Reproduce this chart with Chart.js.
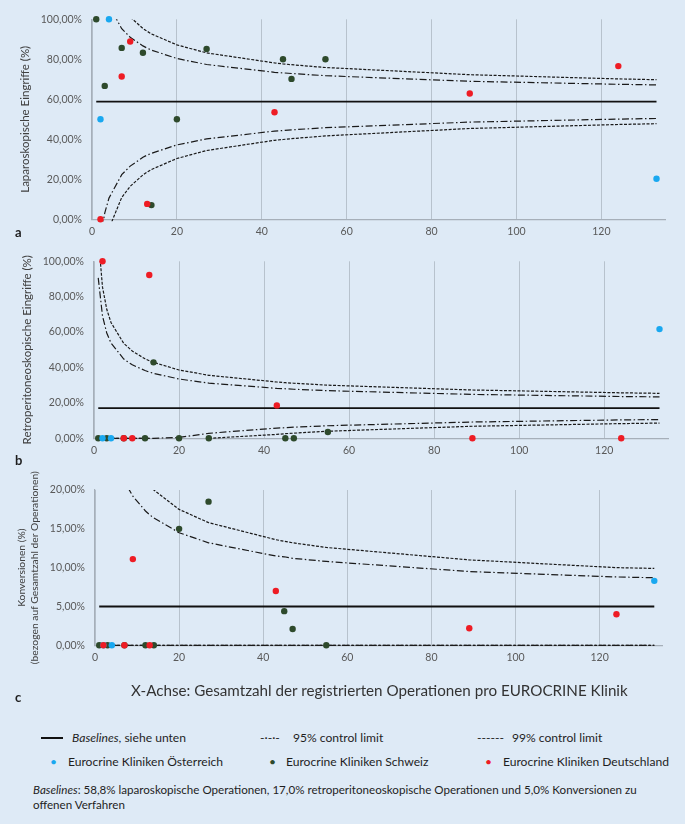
<!DOCTYPE html>
<html lang="de">
<head>
<meta charset="utf-8">
<title>EUROCRINE Funnel Plots</title>
<script src="https://cdn.jsdelivr.net/npm/chart.js@4.4.1/dist/chart.umd.min.js"></script>
<style>
    html, body { margin: 0; padding: 0; }
    body {
        width: 685px; height: 824px; position: relative; overflow: hidden;
        background: #deeaf6; font-family: Lato, 'Open Sans', sans-serif; color: #1e1e1e;
    }
    canvas { position: absolute; left: 0; }
    .txt { position: absolute; white-space: nowrap; font-size: 12.1px; line-height: 14px; }
    .letter { position: absolute; left: 15px; font-size: 13px; font-weight: bold; line-height: 14px; }
</style>
</head>
<body>
<canvas id="chartA" width="685" height="245" style="top:0px"></canvas>
<canvas id="chartB" width="685" height="230" style="top:245px"></canvas>
<canvas id="chartC" width="685" height="205" style="top:470px"></canvas>

<div class="letter" style="top:225px">a</div>
<div class="letter" style="top:453px">b</div>
<div class="letter" style="top:690px">c</div>

<div class="txt" style="left:131px; top:681px; font-size:15.2px; line-height:18px; color:#333">X-Achse: Gesamtzahl der registrierten Operationen pro EUROCRINE Klinik</div>

<div style="position:absolute; left:41px; top:737px; width:22px; height:2px; background:#111"></div>
<div class="txt" style="left:72px; top:731px"><i>Baselines</i>, siehe unten</div>
<div class="txt" style="left:260px; top:731px">-·-·-</div>
<div class="txt" style="left:293px; top:731px">95% control limit</div>
<div class="txt" style="left:477px; top:731px">------</div>
<div class="txt" style="left:512px; top:731px">99% control limit</div>

<div class="txt" style="left:50px; top:755px; color:#19a8f0">•</div>
<div class="txt" style="left:68px; top:755px">Eurocrine Kliniken Österreich</div>
<div class="txt" style="left:269px; top:755px; color:#2e4a2c">•</div>
<div class="txt" style="left:286px; top:755px">Eurocrine Kliniken Schweiz</div>
<div class="txt" style="left:485px; top:755px; color:#ee1c24">•</div>
<div class="txt" style="left:503px; top:755px">Eurocrine Kliniken Deutschland</div>

<div class="txt" style="left:33px; top:782px; line-height:15px; font-size:11.6px"><i>Baselines</i>: 58,8% laparoskopische Operationen, 17,0% retroperitoneoskopische Operationen und 5,0% Konversionen zu<br>offenen Verfahren</div>

<script>
// Operations per clinic (x axis)
const nAustria = [2, 4, 133];
const nSwitzerland = [1, 3, 7, 12, 14, 20, 27, 45, 47, 55];
const nGermany = [2, 7, 9, 13, 43, 89, 124];

// a: laparoscopic share
const lapAustria = [0.50, 1.00, 0.203];
const lapSwitzerland = [1.00, 0.667, 0.857, 0.833, 0.071, 0.50, 0.852, 0.80, 0.702, 0.80];
const lapGermany = [0, 0.714, 0.889, 0.077, 0.535, 0.629, 0.766];

// b: retroperitoneoscopic share
const retroAustria = [0, 0, 0.617];
const retroSwitzerland = [0, 0, 0, 0, 0.429, 0, 0, 0, 0, 0.036];
const retroGermany = [1.00, 0, 0, 0.923, 0.186, 0, 0];

// c: conversions
const convAustria = [0, 0, 0.083];
const convSwitzerland = [0, 0, 0, 0, 0, 0.15, 0.185, 0.044, 0.021, 0];
const convGermany = [0, 0, 0.111, 0, 0.070, 0.022, 0.040];

// baselines, drawn from first to last clinic size
const baselines = [0.588, 0.170, 0.050];
const baselineRange = [1, 133];

// control limit polylines (vertices at clinic sizes)
const limitN = [1, 2, 3, 4, 7, 9, 12, 13, 14, 20, 27, 43, 45, 47, 55, 89, 124, 133];

const lapUpper99 = [1.856, 1.484, 1.320, 1.222, 1.067, 1.011, 0.954, 0.940, 0.927, 0.872, 0.832, 0.782, 0.777, 0.773, 0.759, 0.723, 0.702, 0.698];
const lapUpper95 = [1.553, 1.270, 1.145, 1.070, 0.953, 0.910, 0.867, 0.856, 0.846, 0.804, 0.774, 0.735, 0.732, 0.729, 0.718, 0.690, 0.675, 0.672];
const lapLower95 = [-0.377, -0.094, 0.031, 0.106, 0.223, 0.266, 0.310, 0.321, 0.330, 0.372, 0.402, 0.441, 0.444, 0.447, 0.458, 0.486, 0.501, 0.504];
const lapLower99 = [-0.680, -0.308, -0.144, -0.046, 0.109, 0.165, 0.222, 0.236, 0.249, 0.304, 0.344, 0.395, 0.399, 0.403, 0.417, 0.454, 0.474, 0.478];

const retroUpper99 = [1.138, 0.854, 0.729, 0.654, 0.536, 0.493, 0.449, 0.438, 0.429, 0.386, 0.356, 0.318, 0.314, 0.311, 0.300, 0.273, 0.257, 0.254];
const retroUpper95 = [0.906, 0.691, 0.595, 0.538, 0.448, 0.415, 0.383, 0.374, 0.367, 0.335, 0.312, 0.282, 0.280, 0.277, 0.269, 0.248, 0.236, 0.234];
const retroLower95 = [0, 0, 0, 0, 0, 0, 0, 0, 0, 0.005, 0.028, 0.058, 0.060, 0.063, 0.071, 0.092, 0.104, 0.106];
const retroLower99 = [0, 0, 0, 0, 0, 0, 0, 0, null, null, 0, 0.022, 0.026, 0.029, 0.040, 0.068, 0.083, 0.086];

const convUpper99 = [0.611, 0.447, 0.374, 0.331, 0.262, 0.237, 0.212, 0.206, 0.200, 0.175, 0.158, 0.136, 0.134, 0.132, 0.126, 0.110, 0.100, 0.099];
const convUpper95 = [0.477, 0.352, 0.297, 0.264, 0.211, 0.192, 0.173, 0.168, 0.164, 0.145, 0.132, 0.115, 0.114, 0.112, 0.108, 0.095, 0.088, 0.087];
const convLower95 = [0, 0, 0, 0, 0, 0, 0, 0, 0, 0, 0, 0, 0, 0, 0, 0, 0, 0];
const convLower99 = [0, 0, 0, 0, 0, 0, 0, 0, 0, 0, 0, 0, 0, 0, 0, 0, 0, 0];

const xTicks = [0, 20, 40, 60, 80, 100, 120];

const colAustria = '#19a8f0';
const colSwitzerland = '#2e4a2c';
const colGermany = '#ee1c24';
const gridColor = '#b7c2cd';
const tickColor = '#595959';
const FONT = "Lato, 'Open Sans', sans-serif";

function pct(v) {
    return (v * 100).toFixed(2).replace('.', ',') + '%';
}

function xy(xs, ys) {
    return xs.map(function (x, i) { return { x: x, y: ys[i] }; });
}

function pointSet(xs, ys, color) {
    return {
        data: xy(xs, ys),
        backgroundColor: color,
        borderColor: color,
        pointRadius: 3.2,
        borderWidth: 0,
        clip: false
    };
}

function lineSet(ys, dash, width) {
    return {
        data: xy(limitN, ys),
        showLine: true,
        pointRadius: 0,
        borderColor: '#1a1a1a',
        borderWidth: width,
        borderDash: dash,
        fill: false,
        clip: { left: 2, top: 0, right: 2, bottom: 2 }
    };
}

function buildPanel(id, p) {
    const ctx = document.getElementById(id).getContext('2d');
    const datasets = [
        pointSet(nGermany, p.germany, colGermany),
        pointSet(nAustria, p.austria, colAustria),
        pointSet(nSwitzerland, p.switzerland, colSwitzerland),
        {
            data: xy(baselineRange, [p.baseline, p.baseline]),
            showLine: true, pointRadius: 0, borderColor: '#111', borderWidth: 1.8,
            clip: false
        },
        lineSet(p.upper95, [7, 2.5, 1.5, 2.5], 1.2),
        lineSet(p.lower95, [7, 2.5, 1.5, 2.5], 1.2),
        lineSet(p.upper99, [3, 1.5], 1.2),
        lineSet(p.lower99, [3, 1.5], 1.2)
    ];

    return new Chart(ctx, {
        type: 'scatter',
        data: { datasets: datasets },
        options: {
            responsive: false,
            animation: false,
            layout: { padding: p.padding },
            plugins: { legend: { display: false }, tooltip: { enabled: false } },
            scales: {
                x: {
                    type: 'linear', min: 0, max: 135,
                    afterFit: function (scale) { scale.height = 20; },
                    afterBuildTicks: function (scale) {
                        scale.ticks = xTicks.map(function (v) { return { value: v }; });
                    },
                    grid: { color: gridColor, lineWidth: 1, drawTicks: false },
                    border: { display: true, color: '#a6afb9', width: 1.2 },
                    ticks: { color: tickColor, padding: 6, font: { size: 10.5, family: FONT } }
                },
                y: {
                    type: 'linear', min: 0, max: p.yMax,
                    afterFit: function (scale) { scale.width = p.yWidth; },
                    ticks: {
                        stepSize: p.yStep, color: tickColor, padding: 10,
                        font: { size: 10.5, family: FONT },
                        callback: function (v) { return pct(v); }
                    },
                    grid: { display: false, drawTicks: false },
                    border: { display: true, color: '#a6afb9', width: 1.2 },
                    title: {
                        display: true, text: p.title, color: '#404040',
                        font: { size: p.titleSize, family: FONT, lineHeight: p.titleLh },
                        padding: { top: p.titlePad, bottom: 0 }
                    }
                }
            }
        }
    });
}

buildPanel('chartA', {
    austria: lapAustria, switzerland: lapSwitzerland, germany: lapGermany,
    baseline: baselines[0],
    upper95: lapUpper95, lower95: lapLower95, upper99: lapUpper99, lower99: lapLower99,
    yMax: 1, yStep: 0.2, title: 'Laparoskopische Eingriffe (%)',
    titleSize: 11.5, titleLh: 1.1, titlePad: 4.7,
    padding: { left: 14, right: 20, top: 19.3, bottom: 5.7 }, yWidth: 78
});

buildPanel('chartB', {
    austria: retroAustria, switzerland: retroSwitzerland, germany: retroGermany,
    baseline: baselines[1],
    upper95: retroUpper95, lower95: retroLower95, upper99: retroUpper99, lower99: retroLower99,
    yMax: 1, yStep: 0.2, title: 'Retroperitoneoskopische Eingriffe (%)',
    titleSize: 11.5, titleLh: 1.1, titlePad: 6.7,
    padding: { left: 14, right: 17, top: 11.7, bottom: 16.7 }, yWidth: 80
});

buildPanel('chartC', {
    austria: convAustria, switzerland: convSwitzerland, germany: convGermany,
    baseline: baselines[2],
    upper95: convUpper95, lower95: convLower95, upper99: convUpper99, lower99: convLower99,
    yMax: 0.2, yStep: 0.05, title: ['Konversionen (%)', '(bezogen auf Gesamtzahl der Operationen)'],
    titleSize: 10.3, titleLh: 1.28, titlePad: 1.1,
    padding: { left: 14, right: 22.3, top: 20, bottom: 9.7 }, yWidth: 81
});
</script>
</body>
</html>
